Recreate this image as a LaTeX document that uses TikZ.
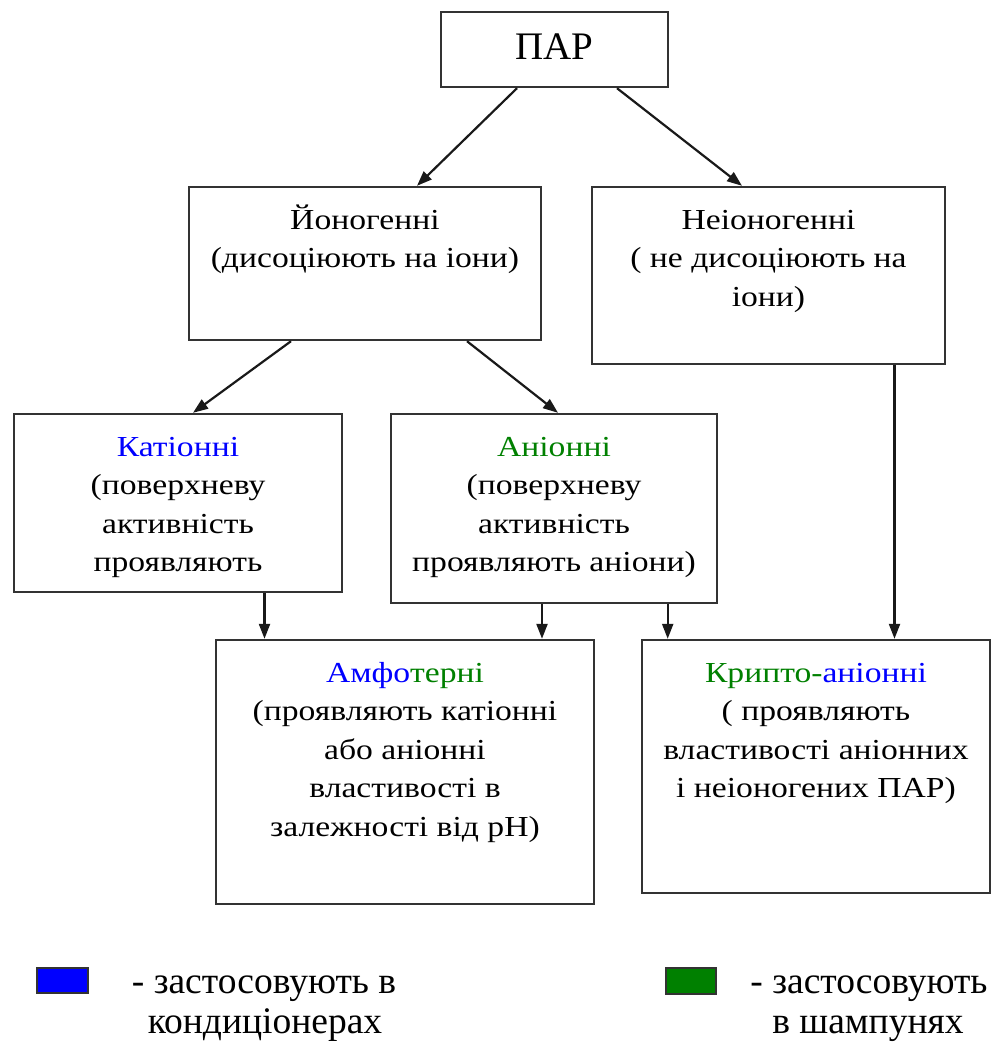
\documentclass[tikz,border=0pt]{standalone}
\usepackage{fontspec}
\setmainfont{Liberation Serif}
\newfontfamily\bxfont[FakeStretch=1.16]{Liberation Serif}
\usetikzlibrary{arrows.meta}
\definecolor{cblue}{RGB}{0,0,255}
\definecolor{cgreen}{RGB}{0,128,0}
\newcommand\fstl{\rule{0pt}{28pt}}
\begin{document}
\begin{tikzpicture}[x=1pt,y=-1pt,
 box/.style={draw=black!80, line width=2.4pt, fill=white, inner sep=0pt},
 txt/.style={align=center, inner sep=0pt, font=\bxfont\fontsize{29}{38.5}\selectfont, anchor=north},
 lgd/.style={inner sep=0pt, font=\fontsize{37.5}{40}\selectfont, anchor=base},
 arr/.style={line width=2.2pt, draw=black!90, -{Triangle[length=15pt,width=11pt]}},
 sq/.style={draw=black!80, line width=1.2pt, inner sep=0pt},
]
\useasboundingbox (0,0) rectangle (992,1045);
% boxes
\node[box, minimum width=227pt, minimum height=75pt] (par) at (554.5,49.5) {};
\node[box, minimum width=352pt, minimum height=153pt] (yon) at (365,263.5) {};
\node[box, minimum width=353pt, minimum height=177pt] (nei) at (768.5,275.5) {};
\node[box, minimum width=328pt, minimum height=178pt] (kat) at (178,503) {};
\node[box, minimum width=326pt, minimum height=189pt] (ani) at (554,508.5) {};
\node[box, minimum width=378pt, minimum height=264pt] (amf) at (405,772) {};
\node[box, minimum width=348pt, minimum height=253pt] (kri) at (816,766.5) {};
% texts
\node[inner sep=0pt, font=\fontsize{39}{42}\selectfont, anchor=base] (part) at (554.5,59) {ПАР};
\node[txt] (yont) at ([yshift=-15pt]yon.north) {\fstl Йоногенні\\(дисоціюють на іони)};
\node[txt] (neit) at ([yshift=-15pt]nei.north) {\fstl Неіоногенні\\( не дисоціюють на\\іони)};
\node[txt] (katt) at ([yshift=-15pt]kat.north) {\fstl{\color{cblue}Катіонні}\\(поверхневу\\активність\\проявляють};
\node[txt] (anit) at ([yshift=-15pt]ani.north) {\fstl{\color{cgreen}Аніонні}\\(поверхневу\\активність\\проявляють аніони)};
\node[txt] (amft) at ([yshift=-15pt]amf.north) {\fstl{\color{cblue}Амфо}{\color{cgreen}терні}\\(проявляють катіонні\\або аніонні\\властивості в\\залежності від pH)};
\node[txt] (krit) at ([yshift=-15pt]kri.north) {\fstl{\color{cgreen}Крипто-}{\color{cblue}аніонні}\\( проявляють\\властивості аніонних\\і неіоногених ПАР)};
% arrows
\draw[arr] ([xshift=-37.5pt]par.south) -- ([xshift=52pt]yon.north);
\draw[arr] ([xshift=62.5pt]par.south) -- ([xshift=-26.5pt]nei.north);
\draw[arr] ([xshift=-74pt]yon.south) -- ([xshift=15pt]kat.north);
\draw[arr] ([xshift=102pt]yon.south) -- ([xshift=4pt]ani.north);
\draw[arr] ([xshift=86.5pt]kat.south) -- ([xshift=86.5pt]kat.south |- amf.north);
\draw[arr] ([xshift=-12pt]ani.south) -- ([xshift=-12pt]ani.south |- amf.north);
\draw[arr] ([xshift=113.7pt]ani.south) -- ([xshift=113.7pt]ani.south |- kri.north);
\draw[arr] ([xshift=126pt]nei.south) -- ([xshift=126pt]nei.south |- kri.north);
% legend
\node[sq, fill=cblue, minimum width=51pt, minimum height=25pt] (sqb) at (62.5,980.5) {};
\node[sq, fill=cgreen, minimum width=50pt, minimum height=26pt] (sqg) at (691,981) {};
\node[lgd] (lb1) at (264,993) {- застосовують в};
\node[lgd] (lb2) at (265,1033) {кондиціонерах};
\node[lgd] (lg1) at (869,993) {- застосовують};
\node[lgd] (lg2) at (868,1033) {в шампунях};
\end{tikzpicture}
\end{document}
